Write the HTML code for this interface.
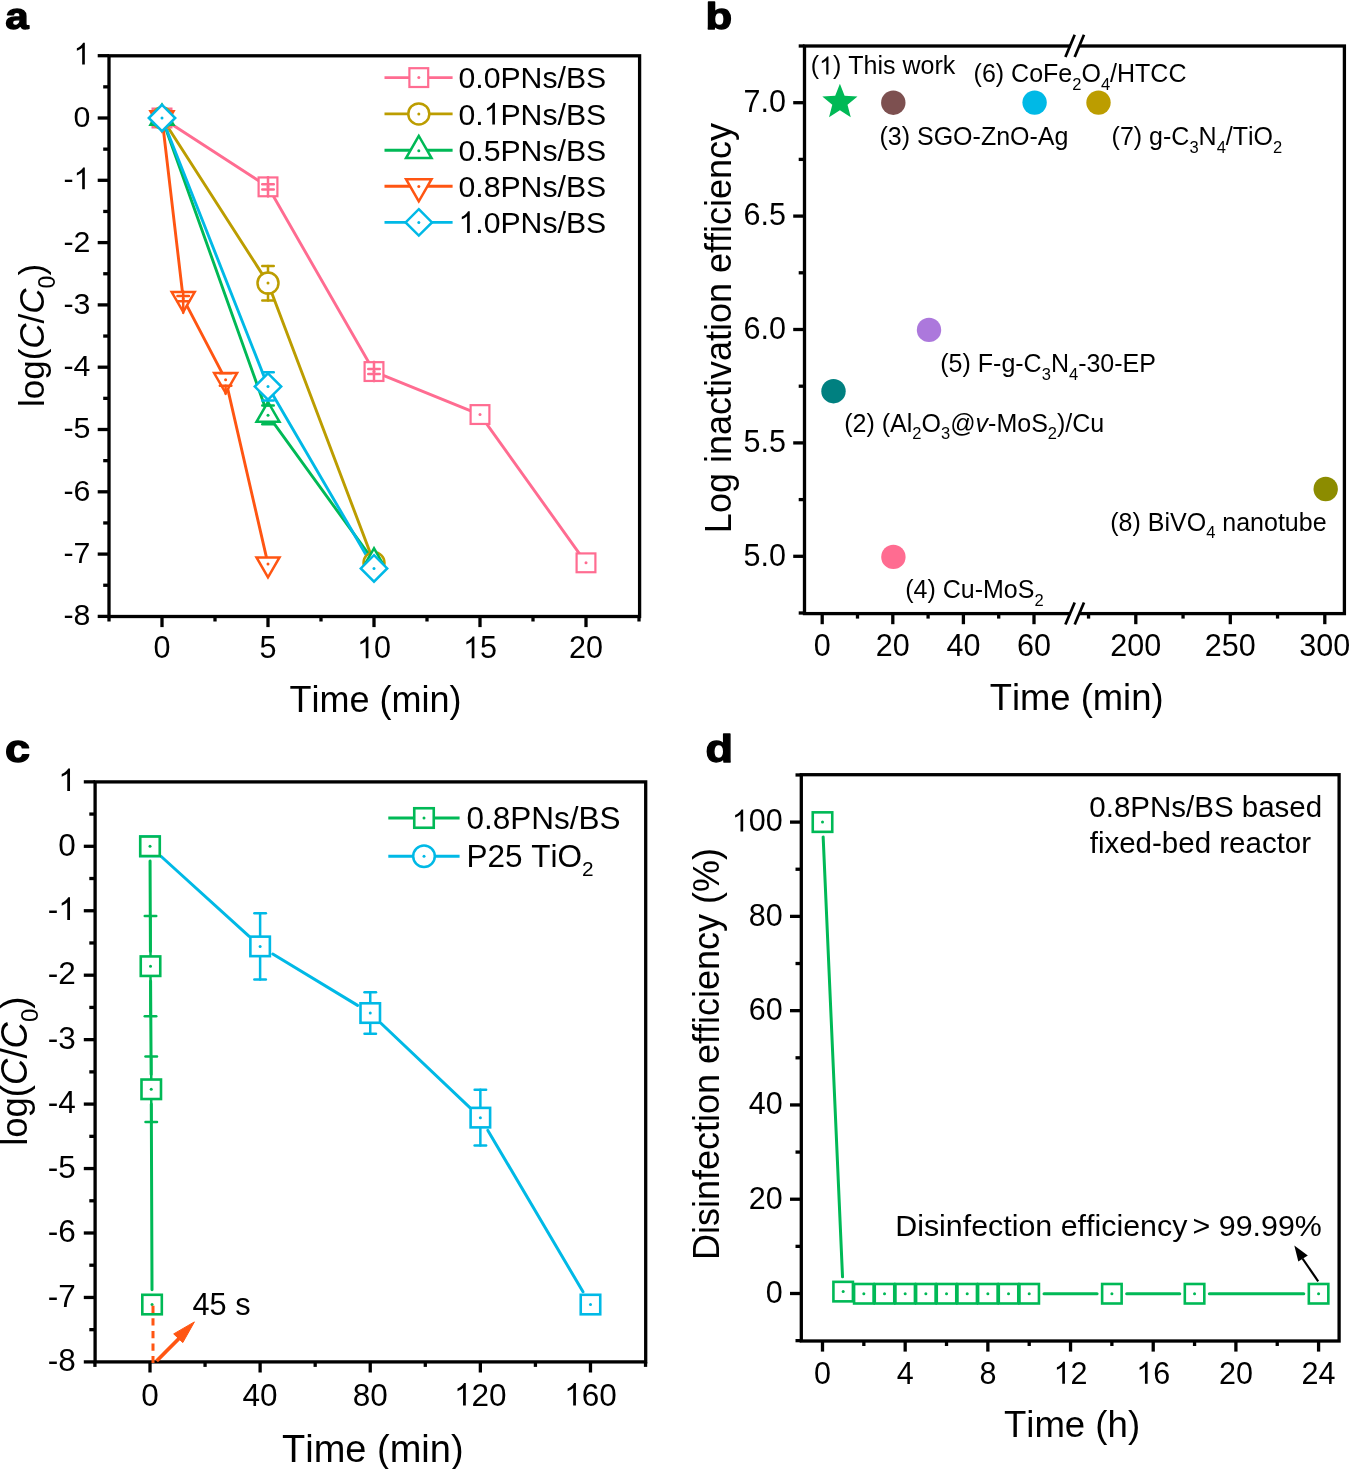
<!DOCTYPE html>
<html><head><meta charset="utf-8"><style>
html,body{margin:0;padding:0;background:#fff;overflow:hidden;}
svg{display:block;will-change:transform;}
text{font-family:"Liberation Sans", sans-serif;font-kerning:none;}
</style></head><body>
<svg width="1350" height="1469" viewBox="0 0 1350 1469" font-family='"Liberation Sans", sans-serif'>
<rect width="1350" height="1469" fill="#fff"/>
<rect x="109.0" y="55.8" width="530.6" height="560.7" fill="none" stroke="#000" stroke-width="3.3"/>
<line x1="97.70" y1="616.40" x2="109.00" y2="616.40" stroke="#000" stroke-width="3.3" stroke-linecap="butt"/>
<text x="90.40" y="625.30" font-size="30.3" text-anchor="end" font-weight="normal" fill="#000">-8</text>
<line x1="97.70" y1="554.10" x2="109.00" y2="554.10" stroke="#000" stroke-width="3.3" stroke-linecap="butt"/>
<text x="90.40" y="563.00" font-size="30.3" text-anchor="end" font-weight="normal" fill="#000">-7</text>
<line x1="97.70" y1="491.80" x2="109.00" y2="491.80" stroke="#000" stroke-width="3.3" stroke-linecap="butt"/>
<text x="90.40" y="500.70" font-size="30.3" text-anchor="end" font-weight="normal" fill="#000">-6</text>
<line x1="97.70" y1="429.50" x2="109.00" y2="429.50" stroke="#000" stroke-width="3.3" stroke-linecap="butt"/>
<text x="90.40" y="438.40" font-size="30.3" text-anchor="end" font-weight="normal" fill="#000">-5</text>
<line x1="97.70" y1="367.20" x2="109.00" y2="367.20" stroke="#000" stroke-width="3.3" stroke-linecap="butt"/>
<text x="90.40" y="376.10" font-size="30.3" text-anchor="end" font-weight="normal" fill="#000">-4</text>
<line x1="97.70" y1="304.90" x2="109.00" y2="304.90" stroke="#000" stroke-width="3.3" stroke-linecap="butt"/>
<text x="90.40" y="313.80" font-size="30.3" text-anchor="end" font-weight="normal" fill="#000">-3</text>
<line x1="97.70" y1="242.60" x2="109.00" y2="242.60" stroke="#000" stroke-width="3.3" stroke-linecap="butt"/>
<text x="90.40" y="251.50" font-size="30.3" text-anchor="end" font-weight="normal" fill="#000">-2</text>
<line x1="97.70" y1="180.30" x2="109.00" y2="180.30" stroke="#000" stroke-width="3.3" stroke-linecap="butt"/>
<path d="M763 0L583 0L583 1147Q518 1085 412.5 1023Q307 961 223 930L223 1104Q374 1175 487 1276Q600 1377 647 1472L763 1472Z" fill="#000" transform="translate(73.55 189.20) scale(0.01479 -0.01479)"/>
<text x="63.46" y="189.20" font-size="30.3" font-weight="normal" fill="#000">- </text>
<line x1="97.70" y1="118.00" x2="109.00" y2="118.00" stroke="#000" stroke-width="3.3" stroke-linecap="butt"/>
<text x="90.40" y="126.90" font-size="30.3" text-anchor="end" font-weight="normal" fill="#000">0</text>
<line x1="97.70" y1="55.70" x2="109.00" y2="55.70" stroke="#000" stroke-width="3.3" stroke-linecap="butt"/>
<path d="M763 0L583 0L583 1147Q518 1085 412.5 1023Q307 961 223 930L223 1104Q374 1175 487 1276Q600 1377 647 1472L763 1472Z" fill="#000" transform="translate(73.55 64.60) scale(0.01479 -0.01479)"/>
<text x="73.55" y="64.60" font-size="30.3" font-weight="normal" fill="#000"> </text>
<line x1="103.20" y1="585.25" x2="109.00" y2="585.25" stroke="#000" stroke-width="3.3" stroke-linecap="butt"/>
<line x1="103.20" y1="522.95" x2="109.00" y2="522.95" stroke="#000" stroke-width="3.3" stroke-linecap="butt"/>
<line x1="103.20" y1="460.65" x2="109.00" y2="460.65" stroke="#000" stroke-width="3.3" stroke-linecap="butt"/>
<line x1="103.20" y1="398.35" x2="109.00" y2="398.35" stroke="#000" stroke-width="3.3" stroke-linecap="butt"/>
<line x1="103.20" y1="336.05" x2="109.00" y2="336.05" stroke="#000" stroke-width="3.3" stroke-linecap="butt"/>
<line x1="103.20" y1="273.75" x2="109.00" y2="273.75" stroke="#000" stroke-width="3.3" stroke-linecap="butt"/>
<line x1="103.20" y1="211.45" x2="109.00" y2="211.45" stroke="#000" stroke-width="3.3" stroke-linecap="butt"/>
<line x1="103.20" y1="149.15" x2="109.00" y2="149.15" stroke="#000" stroke-width="3.3" stroke-linecap="butt"/>
<line x1="103.20" y1="86.85" x2="109.00" y2="86.85" stroke="#000" stroke-width="3.3" stroke-linecap="butt"/>
<line x1="162.00" y1="616.50" x2="162.00" y2="627.10" stroke="#000" stroke-width="3.3" stroke-linecap="butt"/>
<text x="162.00" y="658.30" font-size="30.5" text-anchor="middle" font-weight="normal" fill="#000">0</text>
<line x1="268.00" y1="616.50" x2="268.00" y2="627.10" stroke="#000" stroke-width="3.3" stroke-linecap="butt"/>
<text x="268.00" y="658.30" font-size="30.5" text-anchor="middle" font-weight="normal" fill="#000">5</text>
<line x1="374.00" y1="616.50" x2="374.00" y2="627.10" stroke="#000" stroke-width="3.3" stroke-linecap="butt"/>
<path d="M763 0L583 0L583 1147Q518 1085 412.5 1023Q307 961 223 930L223 1104Q374 1175 487 1276Q600 1377 647 1472L763 1472Z" fill="#000" transform="translate(357.04 658.30) scale(0.01489 -0.01489)"/>
<text x="357.04" y="658.30" font-size="30.5" font-weight="normal" fill="#000"> 0</text>
<line x1="480.00" y1="616.50" x2="480.00" y2="627.10" stroke="#000" stroke-width="3.3" stroke-linecap="butt"/>
<path d="M763 0L583 0L583 1147Q518 1085 412.5 1023Q307 961 223 930L223 1104Q374 1175 487 1276Q600 1377 647 1472L763 1472Z" fill="#000" transform="translate(463.04 658.30) scale(0.01489 -0.01489)"/>
<text x="463.04" y="658.30" font-size="30.5" font-weight="normal" fill="#000"> 5</text>
<line x1="586.00" y1="616.50" x2="586.00" y2="627.10" stroke="#000" stroke-width="3.3" stroke-linecap="butt"/>
<text x="586.00" y="658.30" font-size="30.5" text-anchor="middle" font-weight="normal" fill="#000">20</text>
<line x1="109.00" y1="616.50" x2="109.00" y2="621.50" stroke="#000" stroke-width="3.3" stroke-linecap="butt"/>
<line x1="215.00" y1="616.50" x2="215.00" y2="621.50" stroke="#000" stroke-width="3.3" stroke-linecap="butt"/>
<line x1="321.00" y1="616.50" x2="321.00" y2="621.50" stroke="#000" stroke-width="3.3" stroke-linecap="butt"/>
<line x1="427.00" y1="616.50" x2="427.00" y2="621.50" stroke="#000" stroke-width="3.3" stroke-linecap="butt"/>
<line x1="533.00" y1="616.50" x2="533.00" y2="621.50" stroke="#000" stroke-width="3.3" stroke-linecap="butt"/>
<line x1="639.00" y1="616.50" x2="639.00" y2="621.50" stroke="#000" stroke-width="3.3" stroke-linecap="butt"/>
<text x="44.00" y="335.50" font-size="35" text-anchor="middle" font-weight="normal" fill="#000" transform="rotate(-90 44.00 335.50)">log(<tspan font-style="italic">C</tspan>/<tspan font-style="italic">C</tspan><tspan font-size="0.66em" dy="0.455em">0</tspan><tspan dy="-0.300em">​</tspan>)</text>
<text x="375.50" y="711.50" font-size="36" text-anchor="middle" font-weight="normal" fill="#000">Time (min)</text>
<text transform="translate(5.20 29.30) scale(1.13 1)" x="0" y="0" font-size="37.3" font-weight="bold" stroke="#000" stroke-width="1.3" stroke-linejoin="round">a</text>
<polyline points="162.00,118.00 268.00,186.84 374.00,371.56 480.00,414.55 586.00,562.82" fill="none" stroke="#FF6C91" stroke-width="2.9" stroke-linejoin="round"/>
<polyline points="162.00,118.00 268.00,283.10 374.00,562.82" fill="none" stroke="#BC9D00" stroke-width="2.9" stroke-linejoin="round"/>
<polyline points="162.00,118.00 268.00,415.17 374.00,561.58" fill="none" stroke="#00B956" stroke-width="2.9" stroke-linejoin="round"/>
<polyline points="162.00,118.00 183.20,298.67 225.60,379.66 268.00,564.07" fill="none" stroke="#FF5512" stroke-width="2.9" stroke-linejoin="round"/>
<polyline points="162.00,118.00 268.00,386.51 374.00,568.43" fill="none" stroke="#00B9E6" stroke-width="2.9" stroke-linejoin="round"/>
<rect x="152.60" y="108.60" width="18.8" height="18.8" fill="#fff" stroke="#FF6C91" stroke-width="2.2"/>
<circle cx="162.00" cy="118.00" r="1.5" fill="#FF6C91"/>
<rect x="258.60" y="177.44" width="18.8" height="18.8" fill="#fff" stroke="#FF6C91" stroke-width="2.2"/>
<circle cx="268.00" cy="186.84" r="1.5" fill="#FF6C91"/>
<rect x="364.60" y="362.16" width="18.8" height="18.8" fill="#fff" stroke="#FF6C91" stroke-width="2.2"/>
<circle cx="374.00" cy="371.56" r="1.5" fill="#FF6C91"/>
<rect x="470.60" y="405.15" width="18.8" height="18.8" fill="#fff" stroke="#FF6C91" stroke-width="2.2"/>
<circle cx="480.00" cy="414.55" r="1.5" fill="#FF6C91"/>
<rect x="576.60" y="553.42" width="18.8" height="18.8" fill="#fff" stroke="#FF6C91" stroke-width="2.2"/>
<circle cx="586.00" cy="562.82" r="1.5" fill="#FF6C91"/>
<line x1="268.00" y1="177.34" x2="268.00" y2="196.34" stroke="#FF6C91" stroke-width="2.5" stroke-linecap="round"/>
<line x1="267.95" y1="177.34" x2="268.05" y2="177.34" stroke="#FF6C91" stroke-width="2.5" stroke-linecap="round"/>
<line x1="267.95" y1="196.34" x2="268.05" y2="196.34" stroke="#FF6C91" stroke-width="2.5" stroke-linecap="round"/>
<line x1="262.25" y1="184.24" x2="273.75" y2="184.24" stroke="#FF6C91" stroke-width="2.5" stroke-linecap="round"/>
<line x1="262.25" y1="189.44" x2="273.75" y2="189.44" stroke="#FF6C91" stroke-width="2.5" stroke-linecap="round"/>
<line x1="374.00" y1="362.06" x2="374.00" y2="381.06" stroke="#FF6C91" stroke-width="2.5" stroke-linecap="round"/>
<line x1="373.95" y1="362.06" x2="374.05" y2="362.06" stroke="#FF6C91" stroke-width="2.5" stroke-linecap="round"/>
<line x1="373.95" y1="381.06" x2="374.05" y2="381.06" stroke="#FF6C91" stroke-width="2.5" stroke-linecap="round"/>
<line x1="368.25" y1="369.06" x2="379.75" y2="369.06" stroke="#FF6C91" stroke-width="2.5" stroke-linecap="round"/>
<line x1="368.25" y1="374.06" x2="379.75" y2="374.06" stroke="#FF6C91" stroke-width="2.5" stroke-linecap="round"/>
<circle cx="162.00" cy="118.00" r="10.5" fill="#fff" stroke="#BC9D00" stroke-width="2.5"/>
<circle cx="162.00" cy="118.00" r="1.5" fill="#BC9D00"/>
<circle cx="268.00" cy="283.10" r="10.5" fill="#fff" stroke="#BC9D00" stroke-width="2.5"/>
<circle cx="268.00" cy="283.10" r="1.5" fill="#BC9D00"/>
<circle cx="374.00" cy="562.82" r="10.5" fill="#fff" stroke="#BC9D00" stroke-width="2.5"/>
<circle cx="374.00" cy="562.82" r="1.5" fill="#BC9D00"/>
<line x1="268.00" y1="265.90" x2="268.00" y2="272.60" stroke="#BC9D00" stroke-width="2.5" stroke-linecap="round"/>
<line x1="268.00" y1="293.60" x2="268.00" y2="300.60" stroke="#BC9D00" stroke-width="2.5" stroke-linecap="round"/>
<line x1="262.25" y1="265.90" x2="273.75" y2="265.90" stroke="#BC9D00" stroke-width="2.5" stroke-linecap="round"/>
<line x1="262.25" y1="300.60" x2="273.75" y2="300.60" stroke="#BC9D00" stroke-width="2.5" stroke-linecap="round"/>
<polygon points="162.00,104.72 150.50,124.64 173.50,124.64" fill="#fff" stroke="#00B956" stroke-width="2.5" stroke-linejoin="miter"/>
<circle cx="162.00" cy="118.00" r="1.5" fill="#00B956"/>
<polygon points="268.00,401.89 256.50,421.81 279.50,421.81" fill="#fff" stroke="#00B956" stroke-width="2.5" stroke-linejoin="miter"/>
<circle cx="268.00" cy="415.17" r="1.5" fill="#00B956"/>
<polygon points="374.00,548.30 362.50,568.22 385.50,568.22" fill="#fff" stroke="#00B956" stroke-width="2.5" stroke-linejoin="miter"/>
<circle cx="374.00" cy="561.58" r="1.5" fill="#00B956"/>
<line x1="262.25" y1="405.57" x2="273.75" y2="405.57" stroke="#00B956" stroke-width="2.5" stroke-linecap="round"/>
<line x1="262.25" y1="424.37" x2="273.75" y2="424.37" stroke="#00B956" stroke-width="2.5" stroke-linecap="round"/>
<line x1="268.00" y1="405.57" x2="268.00" y2="401.17" stroke="#00B956" stroke-width="2.5" stroke-linecap="round"/>
<polygon points="162.00,131.28 150.50,111.36 173.50,111.36" fill="#fff" stroke="#FF5512" stroke-width="2.5" stroke-linejoin="miter"/>
<circle cx="162.00" cy="118.00" r="1.5" fill="#FF5512"/>
<polygon points="183.20,311.95 171.70,292.03 194.70,292.03" fill="#fff" stroke="#FF5512" stroke-width="2.5" stroke-linejoin="miter"/>
<circle cx="183.20" cy="298.67" r="1.5" fill="#FF5512"/>
<polygon points="225.60,392.94 214.10,373.02 237.10,373.02" fill="#fff" stroke="#FF5512" stroke-width="2.5" stroke-linejoin="miter"/>
<circle cx="225.60" cy="379.66" r="1.5" fill="#FF5512"/>
<polygon points="268.00,577.35 256.50,557.43 279.50,557.43" fill="#fff" stroke="#FF5512" stroke-width="2.5" stroke-linejoin="miter"/>
<circle cx="268.00" cy="564.07" r="1.5" fill="#FF5512"/>
<line x1="177.45" y1="295.97" x2="188.95" y2="295.97" stroke="#FF5512" stroke-width="2.5" stroke-linecap="round"/>
<line x1="177.45" y1="301.37" x2="188.95" y2="301.37" stroke="#FF5512" stroke-width="2.5" stroke-linecap="round"/>
<line x1="183.20" y1="291.57" x2="183.20" y2="312.87" stroke="#FF5512" stroke-width="2.5" stroke-linecap="round"/>
<line x1="219.85" y1="373.16" x2="231.35" y2="373.16" stroke="#FF5512" stroke-width="2.5" stroke-linecap="round"/>
<line x1="219.85" y1="385.66" x2="231.35" y2="385.66" stroke="#FF5512" stroke-width="2.5" stroke-linecap="round"/>
<line x1="225.60" y1="385.66" x2="225.60" y2="393.86" stroke="#FF5512" stroke-width="2.5" stroke-linecap="round"/>
<polygon points="162.00,104.80 175.20,118.00 162.00,131.20 148.80,118.00" fill="#fff" stroke="#00B9E6" stroke-width="2.5"/>
<circle cx="162.00" cy="118.00" r="1.5" fill="#00B9E6"/>
<polygon points="268.00,373.31 281.20,386.51 268.00,399.71 254.80,386.51" fill="#fff" stroke="#00B9E6" stroke-width="2.5"/>
<circle cx="268.00" cy="386.51" r="1.5" fill="#00B9E6"/>
<polygon points="374.00,555.23 387.20,568.43 374.00,581.63 360.80,568.43" fill="#fff" stroke="#00B9E6" stroke-width="2.5"/>
<circle cx="374.00" cy="568.43" r="1.5" fill="#00B9E6"/>
<line x1="268.00" y1="372.31" x2="268.00" y2="373.01" stroke="#00B9E6" stroke-width="2.5" stroke-linecap="round"/>
<line x1="262.25" y1="372.31" x2="273.75" y2="372.31" stroke="#00B9E6" stroke-width="2.5" stroke-linecap="round"/>
<line x1="262.25" y1="400.61" x2="273.75" y2="400.61" stroke="#00B9E6" stroke-width="2.5" stroke-linecap="round"/>
<line x1="384.50" y1="77.60" x2="452.60" y2="77.60" stroke="#FF6C91" stroke-width="2.9" stroke-linecap="butt"/>
<rect x="409.40" y="68.20" width="18.8" height="18.8" fill="#fff" stroke="#FF6C91" stroke-width="2.2"/>
<circle cx="418.80" cy="77.60" r="1.5" fill="#FF6C91"/>
<text x="458.50" y="88.20" font-size="30.2" text-anchor="start" font-weight="normal" fill="#000">0.0PNs/BS</text>
<line x1="384.50" y1="113.90" x2="452.60" y2="113.90" stroke="#BC9D00" stroke-width="2.9" stroke-linecap="butt"/>
<circle cx="418.80" cy="113.90" r="10.5" fill="#fff" stroke="#BC9D00" stroke-width="2.5"/>
<circle cx="418.80" cy="113.90" r="1.5" fill="#BC9D00"/>
<path d="M763 0L583 0L583 1147Q518 1085 412.5 1023Q307 961 223 930L223 1104Q374 1175 487 1276Q600 1377 647 1472L763 1472Z" fill="#000" transform="translate(483.69 124.50) scale(0.01475 -0.01475)"/>
<text x="458.50" y="124.50" font-size="30.2" font-weight="normal" fill="#000">0. PNs/BS</text>
<line x1="384.50" y1="150.20" x2="452.60" y2="150.20" stroke="#00B956" stroke-width="2.9" stroke-linecap="butt"/>
<polygon points="418.80,135.98 406.05,158.06 431.55,158.06" fill="#fff" stroke="#00B956" stroke-width="2.5" stroke-linejoin="miter"/>
<circle cx="418.80" cy="150.70" r="1.5" fill="#00B956"/>
<text x="458.50" y="160.80" font-size="30.2" text-anchor="start" font-weight="normal" fill="#000">0.5PNs/BS</text>
<line x1="384.50" y1="186.30" x2="452.60" y2="186.30" stroke="#FF5512" stroke-width="2.9" stroke-linecap="butt"/>
<polygon points="418.80,201.32 406.05,179.24 431.55,179.24" fill="#fff" stroke="#FF5512" stroke-width="2.5" stroke-linejoin="miter"/>
<circle cx="418.80" cy="186.60" r="1.5" fill="#FF5512"/>
<text x="458.50" y="196.90" font-size="30.2" text-anchor="start" font-weight="normal" fill="#000">0.8PNs/BS</text>
<line x1="384.50" y1="222.40" x2="452.60" y2="222.40" stroke="#00B9E6" stroke-width="2.9" stroke-linecap="butt"/>
<polygon points="418.80,209.20 432.00,222.40 418.80,235.60 405.60,222.40" fill="#fff" stroke="#00B9E6" stroke-width="2.5"/>
<circle cx="418.80" cy="222.40" r="1.5" fill="#00B9E6"/>
<path d="M763 0L583 0L583 1147Q518 1085 412.5 1023Q307 961 223 930L223 1104Q374 1175 487 1276Q600 1377 647 1472L763 1472Z" fill="#000" transform="translate(458.50 233.00) scale(0.01475 -0.01475)"/>
<text x="458.50" y="233.00" font-size="30.2" font-weight="normal" fill="#000"> .0PNs/BS</text>
<rect x="804.5" y="46" width="539.9000000000001" height="567.6" fill="none" stroke="#000" stroke-width="3.3"/>
<rect x="1070.6" y="43.50" width="9.3" height="5" fill="#fff"/>
<line x1="1065.40" y1="57.00" x2="1074.70" y2="34.80" stroke="#000" stroke-width="2.7" stroke-linecap="butt"/>
<line x1="1074.70" y1="57.00" x2="1084.00" y2="34.80" stroke="#000" stroke-width="2.7" stroke-linecap="butt"/>
<rect x="1070.6" y="611.10" width="9.3" height="5" fill="#fff"/>
<line x1="1065.40" y1="624.60" x2="1074.70" y2="602.40" stroke="#000" stroke-width="2.7" stroke-linecap="butt"/>
<line x1="1074.70" y1="624.60" x2="1084.00" y2="602.40" stroke="#000" stroke-width="2.7" stroke-linecap="butt"/>
<line x1="793.20" y1="556.30" x2="804.50" y2="556.30" stroke="#000" stroke-width="3.3" stroke-linecap="butt"/>
<text x="786.00" y="565.60" font-size="30.5" text-anchor="end" font-weight="normal" fill="#000">5.0</text>
<line x1="793.20" y1="442.90" x2="804.50" y2="442.90" stroke="#000" stroke-width="3.3" stroke-linecap="butt"/>
<text x="786.00" y="452.20" font-size="30.5" text-anchor="end" font-weight="normal" fill="#000">5.5</text>
<line x1="793.20" y1="329.50" x2="804.50" y2="329.50" stroke="#000" stroke-width="3.3" stroke-linecap="butt"/>
<text x="786.00" y="338.80" font-size="30.5" text-anchor="end" font-weight="normal" fill="#000">6.0</text>
<line x1="793.20" y1="216.10" x2="804.50" y2="216.10" stroke="#000" stroke-width="3.3" stroke-linecap="butt"/>
<text x="786.00" y="225.40" font-size="30.5" text-anchor="end" font-weight="normal" fill="#000">6.5</text>
<line x1="793.20" y1="102.70" x2="804.50" y2="102.70" stroke="#000" stroke-width="3.3" stroke-linecap="butt"/>
<text x="786.00" y="112.00" font-size="30.5" text-anchor="end" font-weight="normal" fill="#000">7.0</text>
<line x1="798.70" y1="613.00" x2="804.50" y2="613.00" stroke="#000" stroke-width="3.3" stroke-linecap="butt"/>
<line x1="798.70" y1="499.60" x2="804.50" y2="499.60" stroke="#000" stroke-width="3.3" stroke-linecap="butt"/>
<line x1="798.70" y1="386.20" x2="804.50" y2="386.20" stroke="#000" stroke-width="3.3" stroke-linecap="butt"/>
<line x1="798.70" y1="272.80" x2="804.50" y2="272.80" stroke="#000" stroke-width="3.3" stroke-linecap="butt"/>
<line x1="798.70" y1="159.40" x2="804.50" y2="159.40" stroke="#000" stroke-width="3.3" stroke-linecap="butt"/>
<line x1="798.70" y1="46.00" x2="804.50" y2="46.00" stroke="#000" stroke-width="3.3" stroke-linecap="butt"/>
<line x1="822.20" y1="613.60" x2="822.20" y2="624.20" stroke="#000" stroke-width="3.3" stroke-linecap="butt"/>
<text x="822.20" y="655.80" font-size="30.5" text-anchor="middle" font-weight="normal" fill="#000">0</text>
<line x1="892.80" y1="613.60" x2="892.80" y2="624.20" stroke="#000" stroke-width="3.3" stroke-linecap="butt"/>
<text x="892.80" y="655.80" font-size="30.5" text-anchor="middle" font-weight="normal" fill="#000">20</text>
<line x1="963.40" y1="613.60" x2="963.40" y2="624.20" stroke="#000" stroke-width="3.3" stroke-linecap="butt"/>
<text x="963.40" y="655.80" font-size="30.5" text-anchor="middle" font-weight="normal" fill="#000">40</text>
<line x1="1034.00" y1="613.60" x2="1034.00" y2="624.20" stroke="#000" stroke-width="3.3" stroke-linecap="butt"/>
<text x="1034.00" y="655.80" font-size="30.5" text-anchor="middle" font-weight="normal" fill="#000">60</text>
<line x1="857.50" y1="613.60" x2="857.50" y2="618.60" stroke="#000" stroke-width="3.3" stroke-linecap="butt"/>
<line x1="928.10" y1="613.60" x2="928.10" y2="618.60" stroke="#000" stroke-width="3.3" stroke-linecap="butt"/>
<line x1="998.70" y1="613.60" x2="998.70" y2="618.60" stroke="#000" stroke-width="3.3" stroke-linecap="butt"/>
<line x1="1135.80" y1="613.60" x2="1135.80" y2="624.20" stroke="#000" stroke-width="3.3" stroke-linecap="butt"/>
<text x="1135.80" y="655.80" font-size="30.5" text-anchor="middle" font-weight="normal" fill="#000">200</text>
<line x1="1230.30" y1="613.60" x2="1230.30" y2="624.20" stroke="#000" stroke-width="3.3" stroke-linecap="butt"/>
<text x="1230.30" y="655.80" font-size="30.5" text-anchor="middle" font-weight="normal" fill="#000">250</text>
<line x1="1324.80" y1="613.60" x2="1324.80" y2="624.20" stroke="#000" stroke-width="3.3" stroke-linecap="butt"/>
<text x="1324.80" y="655.80" font-size="30.5" text-anchor="middle" font-weight="normal" fill="#000">300</text>
<line x1="1088.55" y1="613.60" x2="1088.55" y2="618.60" stroke="#000" stroke-width="3.3" stroke-linecap="butt"/>
<line x1="1183.05" y1="613.60" x2="1183.05" y2="618.60" stroke="#000" stroke-width="3.3" stroke-linecap="butt"/>
<line x1="1277.55" y1="613.60" x2="1277.55" y2="618.60" stroke="#000" stroke-width="3.3" stroke-linecap="butt"/>
<text x="730.80" y="328.00" font-size="36" text-anchor="middle" font-weight="normal" fill="#000" transform="rotate(-90 730.80 328.00)">Log inactivation efficiency</text>
<text x="1076.60" y="710.30" font-size="36.4" text-anchor="middle" font-weight="normal" fill="#000">Time (min)</text>
<text transform="translate(705.60 28.70) scale(1.17 1)" x="0" y="0" font-size="37.3" font-weight="bold" stroke="#000" stroke-width="1.3" stroke-linejoin="round">b</text>
<polygon points="839.90,83.80 844.60,95.83 857.49,96.58 847.51,104.77 850.77,117.27 839.90,110.30 829.03,117.27 832.29,104.77 822.31,96.58 835.20,95.83" fill="#00B956"/>
<circle cx="893.3" cy="102.7" r="12.2" fill="#7D5050"/>
<circle cx="1034.6" cy="102.6" r="12.2" fill="#00B9E6"/>
<circle cx="1098.5" cy="102.6" r="12.2" fill="#BC9D00"/>
<circle cx="929" cy="329.9" r="12.2" fill="#AC78DC"/>
<circle cx="833.5" cy="391.2" r="12.2" fill="#008080"/>
<circle cx="893.4" cy="556.9" r="12.2" fill="#FF6C91"/>
<circle cx="1325.7" cy="489" r="12.2" fill="#8C8C00"/>
<path d="M763 0L583 0L583 1147Q518 1085 412.5 1023Q307 961 223 930L223 1104Q374 1175 487 1276Q600 1377 647 1472L763 1472Z" fill="#000" transform="translate(819.13 74.40) scale(0.01221 -0.01221)"/>
<text x="810.80" y="74.40" font-size="25" font-weight="normal" fill="#000">( ) This work</text>
<text x="973.60" y="82.00" font-size="25" text-anchor="start" font-weight="normal" fill="#000">(6) CoFe<tspan font-size="0.66em" dy="0.455em">2</tspan><tspan dy="-0.300em">​</tspan>O<tspan font-size="0.66em" dy="0.455em">4</tspan><tspan dy="-0.300em">​</tspan>/HTCC</text>
<text x="879.50" y="145.00" font-size="25" text-anchor="start" font-weight="normal" fill="#000">(3) SGO-ZnO-Ag</text>
<text x="1111.60" y="145.00" font-size="25" text-anchor="start" font-weight="normal" fill="#000">(7) g-C<tspan font-size="0.66em" dy="0.455em">3</tspan><tspan dy="-0.300em">​</tspan>N<tspan font-size="0.66em" dy="0.455em">4</tspan><tspan dy="-0.300em">​</tspan>/TiO<tspan font-size="0.66em" dy="0.455em">2</tspan><tspan dy="-0.300em">​</tspan></text>
<text x="940.30" y="372.30" font-size="25" text-anchor="start" font-weight="normal" fill="#000">(5) F-g-C<tspan font-size="0.66em" dy="0.455em">3</tspan><tspan dy="-0.300em">​</tspan>N<tspan font-size="0.66em" dy="0.455em">4</tspan><tspan dy="-0.300em">​</tspan>-30-EP</text>
<text x="844.30" y="431.50" font-size="25" text-anchor="start" font-weight="normal" fill="#000">(2) (Al<tspan font-size="0.66em" dy="0.455em">2</tspan><tspan dy="-0.300em">​</tspan>O<tspan font-size="0.66em" dy="0.455em">3</tspan><tspan dy="-0.300em">​</tspan>@<tspan font-style="italic">v</tspan>-MoS<tspan font-size="0.66em" dy="0.455em">2</tspan><tspan dy="-0.300em">​</tspan>)/Cu</text>
<text x="1110.30" y="530.50" font-size="25" text-anchor="start" font-weight="normal" fill="#000">(8) BiVO<tspan font-size="0.66em" dy="0.455em">4</tspan><tspan dy="-0.300em">​</tspan> nanotube</text>
<text x="905.20" y="598.00" font-size="25" text-anchor="start" font-weight="normal" fill="#000">(4) Cu-MoS<tspan font-size="0.66em" dy="0.455em">2</tspan><tspan dy="-0.300em">​</tspan></text>
<rect x="95.1" y="781.9" width="550.6" height="580.0000000000001" fill="none" stroke="#000" stroke-width="3.3"/>
<line x1="83.80" y1="1361.90" x2="95.10" y2="1361.90" stroke="#000" stroke-width="3.3" stroke-linecap="butt"/>
<text x="75.80" y="1371.10" font-size="31.5" text-anchor="end" font-weight="normal" fill="#000">-8</text>
<line x1="83.80" y1="1297.45" x2="95.10" y2="1297.45" stroke="#000" stroke-width="3.3" stroke-linecap="butt"/>
<text x="75.80" y="1306.65" font-size="31.5" text-anchor="end" font-weight="normal" fill="#000">-7</text>
<line x1="83.80" y1="1233.00" x2="95.10" y2="1233.00" stroke="#000" stroke-width="3.3" stroke-linecap="butt"/>
<text x="75.80" y="1242.20" font-size="31.5" text-anchor="end" font-weight="normal" fill="#000">-6</text>
<line x1="83.80" y1="1168.55" x2="95.10" y2="1168.55" stroke="#000" stroke-width="3.3" stroke-linecap="butt"/>
<text x="75.80" y="1177.75" font-size="31.5" text-anchor="end" font-weight="normal" fill="#000">-5</text>
<line x1="83.80" y1="1104.10" x2="95.10" y2="1104.10" stroke="#000" stroke-width="3.3" stroke-linecap="butt"/>
<text x="75.80" y="1113.30" font-size="31.5" text-anchor="end" font-weight="normal" fill="#000">-4</text>
<line x1="83.80" y1="1039.65" x2="95.10" y2="1039.65" stroke="#000" stroke-width="3.3" stroke-linecap="butt"/>
<text x="75.80" y="1048.85" font-size="31.5" text-anchor="end" font-weight="normal" fill="#000">-3</text>
<line x1="83.80" y1="975.20" x2="95.10" y2="975.20" stroke="#000" stroke-width="3.3" stroke-linecap="butt"/>
<text x="75.80" y="984.40" font-size="31.5" text-anchor="end" font-weight="normal" fill="#000">-2</text>
<line x1="83.80" y1="910.75" x2="95.10" y2="910.75" stroke="#000" stroke-width="3.3" stroke-linecap="butt"/>
<path d="M763 0L583 0L583 1147Q518 1085 412.5 1023Q307 961 223 930L223 1104Q374 1175 487 1276Q600 1377 647 1472L763 1472Z" fill="#000" transform="translate(58.28 919.95) scale(0.01538 -0.01538)"/>
<text x="47.79" y="919.95" font-size="31.5" font-weight="normal" fill="#000">- </text>
<line x1="83.80" y1="846.30" x2="95.10" y2="846.30" stroke="#000" stroke-width="3.3" stroke-linecap="butt"/>
<text x="75.80" y="855.50" font-size="31.5" text-anchor="end" font-weight="normal" fill="#000">0</text>
<line x1="83.80" y1="781.85" x2="95.10" y2="781.85" stroke="#000" stroke-width="3.3" stroke-linecap="butt"/>
<path d="M763 0L583 0L583 1147Q518 1085 412.5 1023Q307 961 223 930L223 1104Q374 1175 487 1276Q600 1377 647 1472L763 1472Z" fill="#000" transform="translate(58.28 791.05) scale(0.01538 -0.01538)"/>
<text x="58.28" y="791.05" font-size="31.5" font-weight="normal" fill="#000"> </text>
<line x1="89.30" y1="1329.67" x2="95.10" y2="1329.67" stroke="#000" stroke-width="3.3" stroke-linecap="butt"/>
<line x1="89.30" y1="1265.22" x2="95.10" y2="1265.22" stroke="#000" stroke-width="3.3" stroke-linecap="butt"/>
<line x1="89.30" y1="1200.78" x2="95.10" y2="1200.78" stroke="#000" stroke-width="3.3" stroke-linecap="butt"/>
<line x1="89.30" y1="1136.33" x2="95.10" y2="1136.33" stroke="#000" stroke-width="3.3" stroke-linecap="butt"/>
<line x1="89.30" y1="1071.88" x2="95.10" y2="1071.88" stroke="#000" stroke-width="3.3" stroke-linecap="butt"/>
<line x1="89.30" y1="1007.42" x2="95.10" y2="1007.42" stroke="#000" stroke-width="3.3" stroke-linecap="butt"/>
<line x1="89.30" y1="942.97" x2="95.10" y2="942.97" stroke="#000" stroke-width="3.3" stroke-linecap="butt"/>
<line x1="89.30" y1="878.52" x2="95.10" y2="878.52" stroke="#000" stroke-width="3.3" stroke-linecap="butt"/>
<line x1="89.30" y1="814.07" x2="95.10" y2="814.07" stroke="#000" stroke-width="3.3" stroke-linecap="butt"/>
<line x1="150.00" y1="1361.90" x2="150.00" y2="1372.50" stroke="#000" stroke-width="3.3" stroke-linecap="butt"/>
<text x="150.00" y="1405.60" font-size="31.5" text-anchor="middle" font-weight="normal" fill="#000">0</text>
<line x1="260.12" y1="1361.90" x2="260.12" y2="1372.50" stroke="#000" stroke-width="3.3" stroke-linecap="butt"/>
<text x="260.12" y="1405.60" font-size="31.5" text-anchor="middle" font-weight="normal" fill="#000">40</text>
<line x1="370.24" y1="1361.90" x2="370.24" y2="1372.50" stroke="#000" stroke-width="3.3" stroke-linecap="butt"/>
<text x="370.24" y="1405.60" font-size="31.5" text-anchor="middle" font-weight="normal" fill="#000">80</text>
<line x1="480.36" y1="1361.90" x2="480.36" y2="1372.50" stroke="#000" stroke-width="3.3" stroke-linecap="butt"/>
<path d="M763 0L583 0L583 1147Q518 1085 412.5 1023Q307 961 223 930L223 1104Q374 1175 487 1276Q600 1377 647 1472L763 1472Z" fill="#000" transform="translate(454.08 1405.60) scale(0.01538 -0.01538)"/>
<text x="454.08" y="1405.60" font-size="31.5" font-weight="normal" fill="#000"> 20</text>
<line x1="590.48" y1="1361.90" x2="590.48" y2="1372.50" stroke="#000" stroke-width="3.3" stroke-linecap="butt"/>
<path d="M763 0L583 0L583 1147Q518 1085 412.5 1023Q307 961 223 930L223 1104Q374 1175 487 1276Q600 1377 647 1472L763 1472Z" fill="#000" transform="translate(564.20 1405.60) scale(0.01538 -0.01538)"/>
<text x="564.20" y="1405.60" font-size="31.5" font-weight="normal" fill="#000"> 60</text>
<line x1="94.94" y1="1361.90" x2="94.94" y2="1366.90" stroke="#000" stroke-width="3.3" stroke-linecap="butt"/>
<line x1="205.06" y1="1361.90" x2="205.06" y2="1366.90" stroke="#000" stroke-width="3.3" stroke-linecap="butt"/>
<line x1="315.18" y1="1361.90" x2="315.18" y2="1366.90" stroke="#000" stroke-width="3.3" stroke-linecap="butt"/>
<line x1="425.30" y1="1361.90" x2="425.30" y2="1366.90" stroke="#000" stroke-width="3.3" stroke-linecap="butt"/>
<line x1="535.42" y1="1361.90" x2="535.42" y2="1366.90" stroke="#000" stroke-width="3.3" stroke-linecap="butt"/>
<line x1="645.54" y1="1361.90" x2="645.54" y2="1366.90" stroke="#000" stroke-width="3.3" stroke-linecap="butt"/>
<text x="27.00" y="1071.20" font-size="36.5" text-anchor="middle" font-weight="normal" fill="#000" transform="rotate(-90 27.00 1071.20)">log(<tspan font-style="italic">C</tspan>/<tspan font-style="italic">C</tspan><tspan font-size="0.66em" dy="0.455em">0</tspan><tspan dy="-0.300em">​</tspan>)</text>
<text x="372.80" y="1461.70" font-size="38" text-anchor="middle" font-weight="normal" fill="#000">Time (min)</text>
<text transform="translate(5.00 762.00) scale(1.17 1)" x="0" y="0" font-size="38.5" font-weight="bold" stroke="#000" stroke-width="1.3" stroke-linejoin="round">c</text>
<line x1="160.95" y1="856.25" x2="249.17" y2="936.44" stroke="#00B9E6" stroke-width="3.0" stroke-linecap="round"/>
<line x1="272.78" y1="954.05" x2="357.58" y2="1005.37" stroke="#00B9E6" stroke-width="3.0" stroke-linecap="round"/>
<line x1="380.97" y1="1023.23" x2="469.63" y2="1107.44" stroke="#00B9E6" stroke-width="3.0" stroke-linecap="round"/>
<line x1="487.87" y1="1130.39" x2="582.97" y2="1291.79" stroke="#00B9E6" stroke-width="3.0" stroke-linecap="round"/>
<line x1="150.06" y1="861.10" x2="150.43" y2="951.38" stroke="#00B956" stroke-width="3.0" stroke-linecap="round"/>
<line x1="150.58" y1="980.98" x2="151.15" y2="1074.48" stroke="#00B956" stroke-width="3.0" stroke-linecap="round"/>
<line x1="151.30" y1="1104.08" x2="152.01" y2="1289.74" stroke="#00B956" stroke-width="3.0" stroke-linecap="round"/>
<line x1="150.50" y1="916.08" x2="150.50" y2="1016.28" stroke="#00B956" stroke-width="2.5" stroke-linecap="round"/>
<line x1="144.75" y1="916.08" x2="156.25" y2="916.08" stroke="#00B956" stroke-width="2.5" stroke-linecap="round"/>
<line x1="144.75" y1="1016.28" x2="156.25" y2="1016.28" stroke="#00B956" stroke-width="2.5" stroke-linecap="round"/>
<line x1="151.24" y1="1056.58" x2="151.24" y2="1121.98" stroke="#00B956" stroke-width="2.5" stroke-linecap="round"/>
<line x1="145.49" y1="1056.58" x2="156.99" y2="1056.58" stroke="#00B956" stroke-width="2.5" stroke-linecap="round"/>
<line x1="145.49" y1="1121.98" x2="156.99" y2="1121.98" stroke="#00B956" stroke-width="2.5" stroke-linecap="round"/>
<line x1="260.12" y1="913.19" x2="260.12" y2="979.59" stroke="#00B9E6" stroke-width="2.5" stroke-linecap="round"/>
<line x1="254.37" y1="913.19" x2="265.87" y2="913.19" stroke="#00B9E6" stroke-width="2.5" stroke-linecap="round"/>
<line x1="254.37" y1="979.59" x2="265.87" y2="979.59" stroke="#00B9E6" stroke-width="2.5" stroke-linecap="round"/>
<line x1="370.24" y1="992.33" x2="370.24" y2="1033.73" stroke="#00B9E6" stroke-width="2.5" stroke-linecap="round"/>
<line x1="364.49" y1="992.33" x2="375.99" y2="992.33" stroke="#00B9E6" stroke-width="2.5" stroke-linecap="round"/>
<line x1="364.49" y1="1033.73" x2="375.99" y2="1033.73" stroke="#00B9E6" stroke-width="2.5" stroke-linecap="round"/>
<line x1="480.36" y1="1089.83" x2="480.36" y2="1145.43" stroke="#00B9E6" stroke-width="2.5" stroke-linecap="round"/>
<line x1="474.61" y1="1089.83" x2="486.11" y2="1089.83" stroke="#00B9E6" stroke-width="2.5" stroke-linecap="round"/>
<line x1="474.61" y1="1145.43" x2="486.11" y2="1145.43" stroke="#00B9E6" stroke-width="2.5" stroke-linecap="round"/>
<rect x="140.25" y="836.55" width="19.5" height="19.5" fill="#fff" stroke="#00B9E6" stroke-width="2.6"/>
<circle cx="150.00" cy="846.30" r="1.5" fill="#00B9E6"/>
<rect x="250.37" y="936.64" width="19.5" height="19.5" fill="#fff" stroke="#00B9E6" stroke-width="2.6"/>
<circle cx="260.12" cy="946.39" r="1.5" fill="#00B9E6"/>
<rect x="360.49" y="1003.28" width="19.5" height="19.5" fill="#fff" stroke="#00B9E6" stroke-width="2.6"/>
<circle cx="370.24" cy="1013.03" r="1.5" fill="#00B9E6"/>
<rect x="470.61" y="1107.88" width="19.5" height="19.5" fill="#fff" stroke="#00B9E6" stroke-width="2.6"/>
<circle cx="480.36" cy="1117.63" r="1.5" fill="#00B9E6"/>
<rect x="580.73" y="1294.79" width="19.5" height="19.5" fill="#fff" stroke="#00B9E6" stroke-width="2.6"/>
<circle cx="590.48" cy="1304.54" r="1.5" fill="#00B9E6"/>
<rect x="140.25" y="836.55" width="19.5" height="19.5" fill="#fff" stroke="#00B956" stroke-width="2.6"/>
<circle cx="150.00" cy="846.30" r="1.5" fill="#00B956"/>
<rect x="140.75" y="956.43" width="19.5" height="19.5" fill="#fff" stroke="#00B956" stroke-width="2.6"/>
<circle cx="150.50" cy="966.18" r="1.5" fill="#00B956"/>
<rect x="141.49" y="1079.53" width="19.5" height="19.5" fill="#fff" stroke="#00B956" stroke-width="2.6"/>
<circle cx="151.24" cy="1089.28" r="1.5" fill="#00B956"/>
<rect x="142.31" y="1294.79" width="19.5" height="19.5" fill="#fff" stroke="#00B956" stroke-width="2.6"/>
<circle cx="152.06" cy="1304.54" r="1.5" fill="#00B956"/>
<line x1="153.00" y1="1305.70" x2="153.00" y2="1363.00" stroke="#FF5512" stroke-width="3.0" stroke-linecap="butt" stroke-dasharray="7.3,5.3"/>
<line x1="156.60" y1="1361.00" x2="182.50" y2="1335.00" stroke="#FF5512" stroke-width="3.8" stroke-linecap="butt"/>
<polygon points="194.4,1321.9 173.7,1333.9 182.8,1342.6" fill="#FF5512" stroke="#FF5512" stroke-width="1" stroke-linejoin="round"/>
<text x="192.50" y="1315.40" font-size="30.7" text-anchor="start" font-weight="normal" fill="#000">45 s</text>
<text x="466.40" y="828.90" font-size="31.5" text-anchor="start" font-weight="normal" fill="#000">0.8PNs/BS</text>
<text x="466.40" y="866.80" font-size="31.5" text-anchor="start" font-weight="normal" fill="#000">P25 TiO<tspan font-size="0.66em" dy="0.455em">2</tspan><tspan dy="-0.300em">​</tspan></text>
<line x1="388.30" y1="818.00" x2="459.60" y2="818.00" stroke="#00B956" stroke-width="3.0" stroke-linecap="butt"/>
<rect x="414.25" y="808.25" width="19.5" height="19.5" fill="#fff" stroke="#00B956" stroke-width="2.6"/>
<circle cx="424.00" cy="818.00" r="1.5" fill="#00B956"/>
<line x1="388.30" y1="856.30" x2="459.60" y2="856.30" stroke="#00B9E6" stroke-width="3.0" stroke-linecap="butt"/>
<circle cx="424.00" cy="856.30" r="10.8" fill="#fff" stroke="#00B9E6" stroke-width="2.5"/>
<circle cx="424.00" cy="856.30" r="1.5" fill="#00B9E6"/>
<rect x="801.3" y="774.7" width="537.8" height="566.3" fill="none" stroke="#000" stroke-width="3.3"/>
<line x1="790.00" y1="1293.50" x2="801.30" y2="1293.50" stroke="#000" stroke-width="3.3" stroke-linecap="butt"/>
<text x="782.70" y="1302.80" font-size="30.5" text-anchor="end" font-weight="normal" fill="#000">0</text>
<line x1="790.00" y1="1199.22" x2="801.30" y2="1199.22" stroke="#000" stroke-width="3.3" stroke-linecap="butt"/>
<text x="782.70" y="1208.52" font-size="30.5" text-anchor="end" font-weight="normal" fill="#000">20</text>
<line x1="790.00" y1="1104.94" x2="801.30" y2="1104.94" stroke="#000" stroke-width="3.3" stroke-linecap="butt"/>
<text x="782.70" y="1114.24" font-size="30.5" text-anchor="end" font-weight="normal" fill="#000">40</text>
<line x1="790.00" y1="1010.66" x2="801.30" y2="1010.66" stroke="#000" stroke-width="3.3" stroke-linecap="butt"/>
<text x="782.70" y="1019.96" font-size="30.5" text-anchor="end" font-weight="normal" fill="#000">60</text>
<line x1="790.00" y1="916.38" x2="801.30" y2="916.38" stroke="#000" stroke-width="3.3" stroke-linecap="butt"/>
<text x="782.70" y="925.68" font-size="30.5" text-anchor="end" font-weight="normal" fill="#000">80</text>
<line x1="790.00" y1="822.10" x2="801.30" y2="822.10" stroke="#000" stroke-width="3.3" stroke-linecap="butt"/>
<path d="M763 0L583 0L583 1147Q518 1085 412.5 1023Q307 961 223 930L223 1104Q374 1175 487 1276Q600 1377 647 1472L763 1472Z" fill="#000" transform="translate(731.81 831.40) scale(0.01489 -0.01489)"/>
<text x="731.81" y="831.40" font-size="30.5" font-weight="normal" fill="#000"> 00</text>
<line x1="795.50" y1="1340.64" x2="801.30" y2="1340.64" stroke="#000" stroke-width="3.3" stroke-linecap="butt"/>
<line x1="795.50" y1="1246.36" x2="801.30" y2="1246.36" stroke="#000" stroke-width="3.3" stroke-linecap="butt"/>
<line x1="795.50" y1="1152.08" x2="801.30" y2="1152.08" stroke="#000" stroke-width="3.3" stroke-linecap="butt"/>
<line x1="795.50" y1="1057.80" x2="801.30" y2="1057.80" stroke="#000" stroke-width="3.3" stroke-linecap="butt"/>
<line x1="795.50" y1="963.52" x2="801.30" y2="963.52" stroke="#000" stroke-width="3.3" stroke-linecap="butt"/>
<line x1="795.50" y1="869.24" x2="801.30" y2="869.24" stroke="#000" stroke-width="3.3" stroke-linecap="butt"/>
<line x1="795.50" y1="774.96" x2="801.30" y2="774.96" stroke="#000" stroke-width="3.3" stroke-linecap="butt"/>
<line x1="822.50" y1="1341.00" x2="822.50" y2="1351.60" stroke="#000" stroke-width="3.3" stroke-linecap="butt"/>
<text x="822.50" y="1383.70" font-size="30.5" text-anchor="middle" font-weight="normal" fill="#000">0</text>
<line x1="905.18" y1="1341.00" x2="905.18" y2="1351.60" stroke="#000" stroke-width="3.3" stroke-linecap="butt"/>
<text x="905.18" y="1383.70" font-size="30.5" text-anchor="middle" font-weight="normal" fill="#000">4</text>
<line x1="987.86" y1="1341.00" x2="987.86" y2="1351.60" stroke="#000" stroke-width="3.3" stroke-linecap="butt"/>
<text x="987.86" y="1383.70" font-size="30.5" text-anchor="middle" font-weight="normal" fill="#000">8</text>
<line x1="1070.54" y1="1341.00" x2="1070.54" y2="1351.60" stroke="#000" stroke-width="3.3" stroke-linecap="butt"/>
<path d="M763 0L583 0L583 1147Q518 1085 412.5 1023Q307 961 223 930L223 1104Q374 1175 487 1276Q600 1377 647 1472L763 1472Z" fill="#000" transform="translate(1053.58 1383.70) scale(0.01489 -0.01489)"/>
<text x="1053.58" y="1383.70" font-size="30.5" font-weight="normal" fill="#000"> 2</text>
<line x1="1153.22" y1="1341.00" x2="1153.22" y2="1351.60" stroke="#000" stroke-width="3.3" stroke-linecap="butt"/>
<path d="M763 0L583 0L583 1147Q518 1085 412.5 1023Q307 961 223 930L223 1104Q374 1175 487 1276Q600 1377 647 1472L763 1472Z" fill="#000" transform="translate(1136.26 1383.70) scale(0.01489 -0.01489)"/>
<text x="1136.26" y="1383.70" font-size="30.5" font-weight="normal" fill="#000"> 6</text>
<line x1="1235.90" y1="1341.00" x2="1235.90" y2="1351.60" stroke="#000" stroke-width="3.3" stroke-linecap="butt"/>
<text x="1235.90" y="1383.70" font-size="30.5" text-anchor="middle" font-weight="normal" fill="#000">20</text>
<line x1="1318.58" y1="1341.00" x2="1318.58" y2="1351.60" stroke="#000" stroke-width="3.3" stroke-linecap="butt"/>
<text x="1318.58" y="1383.70" font-size="30.5" text-anchor="middle" font-weight="normal" fill="#000">24</text>
<line x1="863.84" y1="1341.00" x2="863.84" y2="1346.00" stroke="#000" stroke-width="3.3" stroke-linecap="butt"/>
<line x1="946.52" y1="1341.00" x2="946.52" y2="1346.00" stroke="#000" stroke-width="3.3" stroke-linecap="butt"/>
<line x1="1029.20" y1="1341.00" x2="1029.20" y2="1346.00" stroke="#000" stroke-width="3.3" stroke-linecap="butt"/>
<line x1="1111.88" y1="1341.00" x2="1111.88" y2="1346.00" stroke="#000" stroke-width="3.3" stroke-linecap="butt"/>
<line x1="1194.56" y1="1341.00" x2="1194.56" y2="1346.00" stroke="#000" stroke-width="3.3" stroke-linecap="butt"/>
<line x1="1277.24" y1="1341.00" x2="1277.24" y2="1346.00" stroke="#000" stroke-width="3.3" stroke-linecap="butt"/>
<text x="718.90" y="1054.00" font-size="36" text-anchor="middle" font-weight="normal" fill="#000" transform="rotate(-90 718.90 1054.00)">Disinfection efficiency (%)</text>
<text x="1072.00" y="1437.00" font-size="36.6" text-anchor="middle" font-weight="normal" fill="#000">Time (h)</text>
<text transform="translate(705.50 761.80) scale(1.17 1)" x="0" y="0" font-size="38.5" font-weight="bold" stroke="#000" stroke-width="1.3" stroke-linejoin="round">d</text>
<line x1="823.15" y1="836.89" x2="842.52" y2="1276.83" stroke="#00B956" stroke-width="3.0" stroke-linecap="round"/>
<line x1="1044.00" y1="1293.74" x2="1097.08" y2="1293.74" stroke="#00B956" stroke-width="3.0" stroke-linecap="round"/>
<line x1="1126.68" y1="1293.74" x2="1179.76" y2="1293.74" stroke="#00B956" stroke-width="3.0" stroke-linecap="round"/>
<line x1="1209.36" y1="1293.74" x2="1303.78" y2="1293.74" stroke="#00B956" stroke-width="3.0" stroke-linecap="round"/>
<rect x="812.75" y="812.35" width="19.5" height="19.5" fill="#fff" stroke="#00B956" stroke-width="2.6"/>
<circle cx="822.50" cy="822.10" r="1.5" fill="#00B956"/>
<rect x="833.42" y="1281.86" width="19.5" height="19.5" fill="#fff" stroke="#00B956" stroke-width="2.6"/>
<circle cx="843.17" cy="1291.61" r="1.5" fill="#00B956"/>
<rect x="854.09" y="1283.99" width="19.5" height="19.5" fill="#fff" stroke="#00B956" stroke-width="2.6"/>
<circle cx="863.84" cy="1293.74" r="1.5" fill="#00B956"/>
<rect x="874.76" y="1283.99" width="19.5" height="19.5" fill="#fff" stroke="#00B956" stroke-width="2.6"/>
<circle cx="884.51" cy="1293.74" r="1.5" fill="#00B956"/>
<rect x="895.43" y="1283.99" width="19.5" height="19.5" fill="#fff" stroke="#00B956" stroke-width="2.6"/>
<circle cx="905.18" cy="1293.74" r="1.5" fill="#00B956"/>
<rect x="916.10" y="1283.99" width="19.5" height="19.5" fill="#fff" stroke="#00B956" stroke-width="2.6"/>
<circle cx="925.85" cy="1293.74" r="1.5" fill="#00B956"/>
<rect x="936.77" y="1283.99" width="19.5" height="19.5" fill="#fff" stroke="#00B956" stroke-width="2.6"/>
<circle cx="946.52" cy="1293.74" r="1.5" fill="#00B956"/>
<rect x="957.44" y="1283.99" width="19.5" height="19.5" fill="#fff" stroke="#00B956" stroke-width="2.6"/>
<circle cx="967.19" cy="1293.74" r="1.5" fill="#00B956"/>
<rect x="978.11" y="1283.99" width="19.5" height="19.5" fill="#fff" stroke="#00B956" stroke-width="2.6"/>
<circle cx="987.86" cy="1293.74" r="1.5" fill="#00B956"/>
<rect x="998.78" y="1283.99" width="19.5" height="19.5" fill="#fff" stroke="#00B956" stroke-width="2.6"/>
<circle cx="1008.53" cy="1293.74" r="1.5" fill="#00B956"/>
<rect x="1019.45" y="1283.99" width="19.5" height="19.5" fill="#fff" stroke="#00B956" stroke-width="2.6"/>
<circle cx="1029.20" cy="1293.74" r="1.5" fill="#00B956"/>
<rect x="1102.13" y="1283.99" width="19.5" height="19.5" fill="#fff" stroke="#00B956" stroke-width="2.6"/>
<circle cx="1111.88" cy="1293.74" r="1.5" fill="#00B956"/>
<rect x="1184.81" y="1283.99" width="19.5" height="19.5" fill="#fff" stroke="#00B956" stroke-width="2.6"/>
<circle cx="1194.56" cy="1293.74" r="1.5" fill="#00B956"/>
<rect x="1308.83" y="1283.99" width="19.5" height="19.5" fill="#fff" stroke="#00B956" stroke-width="2.6"/>
<circle cx="1318.58" cy="1293.74" r="1.5" fill="#00B956"/>
<text x="1089.30" y="817.00" font-size="29.5" text-anchor="start" font-weight="normal" fill="#000">0.8PNs/BS based</text>
<text x="1089.70" y="853.30" font-size="29.5" text-anchor="start" font-weight="normal" fill="#000">fixed-bed reactor</text>
<text x="895.20" y="1235.50" font-size="30.4" text-anchor="start" font-weight="normal" fill="#000">Disinfection efficiency<tspan dx="5.2">&gt;</tspan> 99.99%</text>
<line x1="1318.20" y1="1281.30" x2="1302.50" y2="1258.50" stroke="#000" stroke-width="2.2" stroke-linecap="butt"/>
<polygon points="1294.3,1245.6 1298.3,1261.6 1307.8,1255.6" fill="#000"/>
</svg>
</body></html>
